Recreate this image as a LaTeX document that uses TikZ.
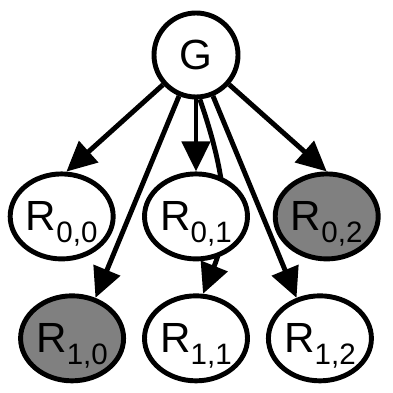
\documentclass[tikz,border=0pt]{standalone}
\usepackage{fontspec}
\setmainfont{Liberation Sans}
\usetikzlibrary{shapes.geometric, arrows.meta, positioning, backgrounds}
\definecolor{ink}{HTML}{000000}
\definecolor{shade}{HTML}{808080}
\newcommand{\idx}[1]{\smash{\raisebox{-8.5pt}{\fontsize{21}{21}\selectfont #1}}}
\tikzset{
  var/.style   = {draw=ink, line width=3.5pt, fill=white, inner sep=0pt,
                  font=\fontsize{30}{30}\selectfont},
  root/.style  = {var, circle, minimum size=2.1cm},
  cell/.style  = {var, ellipse, minimum width=2.575cm, minimum height=2.125cm},
  hid/.style   = {cell, fill=shade},
  link/.style  = {-{Triangle[length=7.5mm,width=7mm]}, draw=ink, line width=3.5pt},
}

\begin{document}
\begin{tikzpicture}[node distance=6mm]
\useasboundingbox (-4.9,1.375) rectangle (4.925,-8.45);

\node[root] (g) {G};
\node[cell, below=18mm of g] (r01) {R\idx{0,1}};
\node[cell, left=6.6mm of r01] (r00) {R\idx{0,0}};
\node[hid, right=5.7mm of r01] (r02) {R\idx{0,2}};
\node[cell, below=8mm of r01] (r11) {R\idx{1,1}};
\node[hid, left=4mm of r11] (r10) {R\idx{1,0}};
\node[cell, right=4mm of r11] (r12) {R\idx{1,2}};

\begin{pgfonlayer}{background}
\draw[link] (g) -- (r00.84);
\draw[link] (g) -- (r01.north);
\draw[link] (g) -- (r02.north);
\draw[link] (g) -- (r10.60);
\draw[link] (g.-85) to[out=-71, in=68] (r11.81);
\draw[link] (g) -- (r12.120);
\end{pgfonlayer}

\end{tikzpicture}
\end{document}
